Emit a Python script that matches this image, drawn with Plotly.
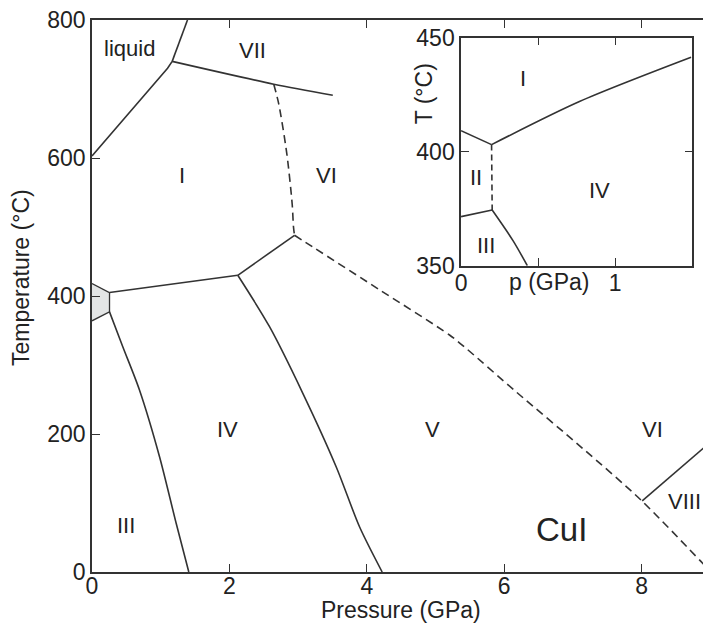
import plotly.graph_objects as go

# ---------------- main diagram data (Pressure GPa, Temperature °C) ----------------
liq_vii_p = [1.167, 1.39]
liq_vii_t = [740, 800]
liq_i_p = [0.0, 1.10, 1.167]
liq_i_t = [603, 730, 740]
vii_i_p = [1.167, 2.646, 3.505]
vii_i_t = [740, 707, 691]
i_vi_p = [2.646, 2.719, 2.836, 2.914, 2.933, 2.948]
i_vi_t = [707, 678, 606, 533, 500, 488]
v_vi_p = [2.948, 3.214, 4.185, 5.204, 5.447, 6.175, 7.144, 7.994, 8.867, 9.0]
v_vi_t = [488, 471, 409, 343.5, 324, 261, 179, 104, 15, 1]
i_iv_p = [0.255, 2.122]
i_iv_t = [405, 430]
i_v_p = [2.122, 2.948]
i_v_t = [430, 488]
iv_v_p = [2.122, 2.584, 3.069, 3.554, 3.894, 4.224]
iv_v_t = [430, 355.5, 259, 152.6, 65.6, 0]
iii_iv_p = [0.255, 0.448, 0.691, 0.983, 1.225, 1.409]
iii_iv_t = [377, 326.5, 263.8, 167.1, 70.6, 0]
vi_viii_p = [8.009, 8.891, 9.0]
vi_viii_t = [103, 179, 188]
gray_p = [0.0, 0.255, 0.255, 0.0]
gray_t = [418, 405, 377, 364]

phase_labels = ["liquid", "VII", "I", "VI", "IV", "III", "V", "VI", "VIII"]
phase_p = [0.546, 2.34, 1.313, 3.409, 1.977, 0.498, 4.961, 8.163, 8.62]
phase_t = [759, 756, 575, 575, 206, 68, 206, 206, 102]

main_xticks = [0, 2, 4, 6, 8]
main_yticks = [0, 200, 400, 600, 800]

# ---------------- inset data ----------------
in_i_ii_p = [0.0, 0.198]
in_i_ii_t = [409.2, 403.1]
in_i_iv_p = [0.198, 0.768, 1.492]
in_i_iv_t = [403.1, 422.0, 441.4]
in_ii_iv_p = [0.198, 0.202]
in_ii_iv_t = [403.1, 374.4]
in_ii_iii_p = [0.0, 0.202]
in_ii_iii_t = [371.5, 374.4]
in_iii_iv_p = [0.202, 0.337, 0.430]
in_iii_iv_t = [374.4, 361.0, 350.0]

inset_labels = ["I", "II", "III", "IV"]
inset_p = [0.40, 0.10, 0.16, 0.897]
inset_t = [432, 388.7, 358.8, 382.9]

inset_xticks = [0, 0.5, 1]
inset_xtext = ["0", "", "1"]
inset_yticks = [350, 400, 450]

LC = "#333333"
TC = "#222222"
FONT = "Liberation Sans, Arial, sans-serif"

fig = go.Figure()

fig.add_trace(go.Scatter(x=gray_p, y=gray_t, fill="toself", fillcolor="#e3e5e5",
                         mode="lines", line=dict(color=LC, width=1.3),
                         showlegend=False, hoverinfo="skip"))

def seg(px, ty, dash="solid", xa="x", ya="y", curved=False):
    fig.add_trace(go.Scatter(x=px, y=ty, mode="lines", xaxis=xa, yaxis=ya,
                             line=dict(color=LC, width=1.6, dash=dash,
                                       shape="spline" if curved else "linear",
                                       smoothing=0.8),
                             showlegend=False, hoverinfo="skip"))

seg(liq_vii_p, liq_vii_t)
seg(liq_i_p, liq_i_t)
seg(vii_i_p, vii_i_t, curved=True)
seg(i_vi_p, i_vi_t, "8px,5px", curved=True)
seg(v_vi_p, v_vi_t, "8px,5px", curved=True)
seg(i_iv_p, i_iv_t)
seg(i_v_p, i_v_t)
seg(iv_v_p, iv_v_t, curved=True)
seg(iii_iv_p, iii_iv_t, curved=True)
seg(vi_viii_p, vi_viii_t)

# inset traces
seg(in_i_ii_p, in_i_ii_t, xa="x2", ya="y2")
seg(in_i_iv_p, in_i_iv_t, xa="x2", ya="y2", curved=True)
seg(in_ii_iv_p, in_ii_iv_t, "6px,4px", xa="x2", ya="y2")
seg(in_ii_iii_p, in_ii_iii_t, xa="x2", ya="y2")
seg(in_iii_iv_p, in_iii_iv_t, xa="x2", ya="y2", curved=True)

def ann(x, y, text, xref, yref, size, angle=0):
    return dict(x=x, y=y, xref=xref, yref=yref, text=text, showarrow=False,
                xanchor="center", yanchor="middle", textangle=angle,
                font=dict(size=size, color=TC, family=FONT))

annotations = []
for lab, p, t in zip(phase_labels, phase_p, phase_t):
    annotations.append(ann(p, t, lab, "x", "y", 22))
annotations.append(ann(6.84, 62, "CuI", "x", "y", 33))
for lab, p, t in zip(inset_labels, inset_p, inset_t):
    annotations.append(ann(p, t, lab, "x2", "y2", 22))
# axis titles
annotations.append(ann(0.506, -0.069, "Pressure (GPa)", "paper", "paper", 23))
annotations.append(ann(-0.1159, 0.533, "Temperature (°C)", "paper", "paper", 23, -90))
annotations.append(ann(0.574, 0.525, "p (GPa)", "x2", "paper", 23))
annotations.append(ann(0.544, 0.866, "T (°C)", "paper", "paper", 23, -90))

tickfont = dict(size=23, color=TC, family=FONT)

common = dict(ticks="inside", ticklen=8, tickwidth=1.3, tickcolor=LC, showline=True,
              linecolor=LC, linewidth=1.5, showgrid=False, zeroline=False,
              tickfont=tickfont, automargin=False, ticklabeloverflow="allow")

fig.update_layout(
    width=703, height=625,
    margin=dict(l=92, r=0, t=20, b=53, pad=0),
    paper_bgcolor="white", plot_bgcolor="white",
    showlegend=False,
    annotations=annotations,
    xaxis=dict(range=[0, 8.894], tickvals=main_xticks, mirror="ticks",
               ticklabelstandoff=-7, domain=[0, 1], **common),
    yaxis=dict(range=[0, 800], tickvals=main_yticks, domain=[0, 1], **common),
    xaxis2=dict(range=[0, 1.5], tickvals=inset_xticks, ticktext=inset_xtext,
                mirror="ticks", ticklabelstandoff=-4, anchor="y2",
                domain=[0.604, 0.9825], **common),
    yaxis2=dict(range=[350, 450], tickvals=inset_yticks, mirror="ticks",
                anchor="x2", domain=[0.5549, 0.968], **common),
)

# remove the browser's default 8px body margin so the figure fills the window exactly
fig.write_html("out.html", config={"displayModeBar": False},
               post_script="document.body.style.margin='0px';document.body.style.overflow='hidden';")
